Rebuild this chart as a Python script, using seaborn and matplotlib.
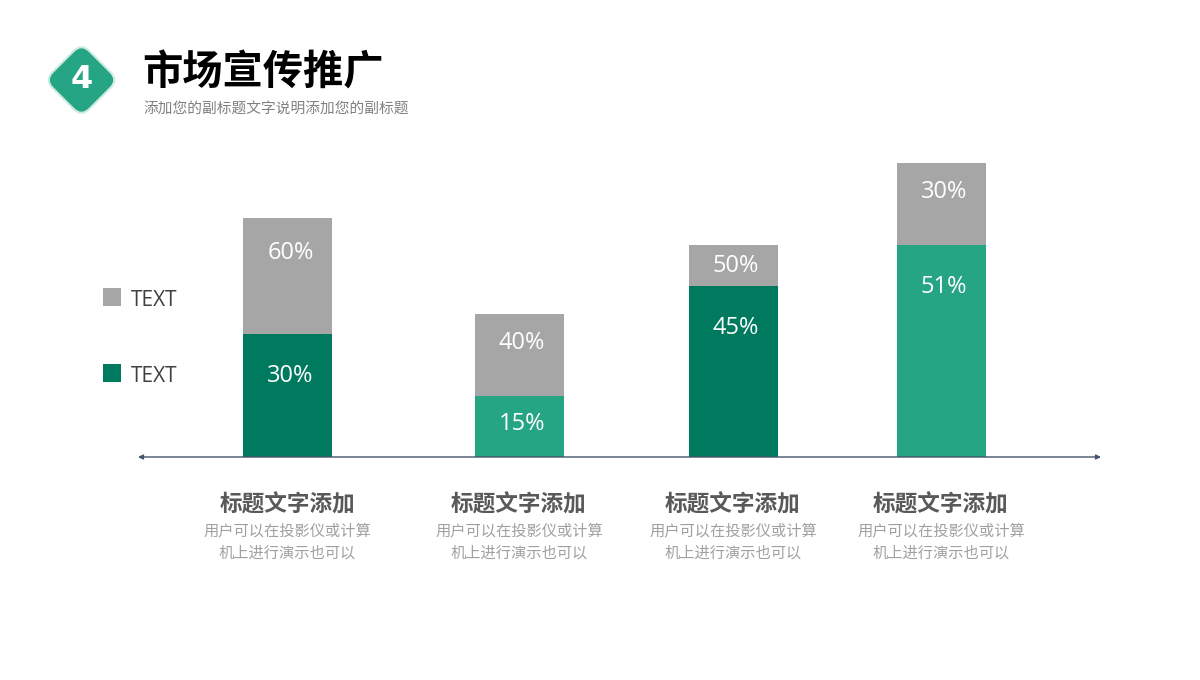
import matplotlib
matplotlib.use("Agg")
import matplotlib.pyplot as plt
import matplotlib.patches as mpatches
from matplotlib.transforms import Affine2D
import seaborn as sns
import pandas as pd

sns.set_theme(style="white")
plt.rcParams['font.family'] = ['Noto Sans CJK SC', 'DejaVu Sans']

# ---- data ----
categories = ["A", "B", "C", "D"]
green_height = [123, 61, 171, 212]      # lower segment heights
gray_height = [116, 82, 41, 82]         # upper segment heights
green_labels = ["30%", "15%", "45%", "51%"]
gray_labels = ["60%", "40%", "50%", "30%"]
legend_labels = ["TEXT", "TEXT"]
cat_titles = ["标题文字添加"] * 4
cat_desc1 = ["用户可以在投影仪或计算"] * 4
cat_desc2 = ["机上进行演示也可以"] * 4
title = "市场宣传推广"
subtitle = "添加您的副标题文字说明添加您的副标题"
badge = "4"

# ---- layout / style ----
x_pos = [287.5, 519, 733, 941]
bar_px = 89
DARK = "#007A5E"
LIGHT = "#26A585"
GRAY = "#A6A6A6"
green_colors = [DARK, LIGHT, DARK, LIGHT]
W, H = 1200, 680
BASE = 457  # baseline pixel row

df = pd.DataFrame({
    "cat": categories,
    "pos": x_pos,
    "green": green_height,
    "total": [g + t for g, t in zip(green_height, gray_height)],
})

fig = plt.figure(figsize=(12, 6.8), dpi=100)
ax = fig.add_axes([0, 0, 1, 1])

min_gap = min(b - a for a, b in zip(x_pos[:-1], x_pos[1:]))
wfrac = bar_px / min_gap

sns.barplot(data=df, x="pos", y="total", native_scale=True, color=GRAY,
            width=wfrac, errorbar=None, linewidth=0, saturation=1, ax=ax)
sns.barplot(data=df, x="pos", y="green", hue="cat", native_scale=True,
            palette=dict(zip(categories, green_colors)), dodge=False,
            width=wfrac, errorbar=None, linewidth=0, saturation=1,
            legend=False, ax=ax)

ax.set_xlim(0, W)
ax.set_ylim(BASE - H, BASE)
ax.axis("off")

def py(p):  # pixel row -> data y
    return BASE - p

# segment labels
for i in range(len(categories)):
    g = green_height[i]
    t = gray_height[i]
    yg = g - min(g / 2 - 2, 42)
    yt = g + t - min(t / 2 + 4, max(32, 0.33 * t)) + 3
    ax.text(x_pos[i] + 3, yg, green_labels[i], ha="center", va="center",
            color="white", fontsize=17, family=["Open Sans", "DejaVu Sans"])
    ax.text(x_pos[i] + 3, yt, gray_labels[i], ha="center", va="center",
            color="white", fontsize=17, family=["Open Sans", "DejaVu Sans"])

# baseline axis with arrows
ax.annotate("", xy=(138, 0), xytext=(1101, 0),
            arrowprops=dict(arrowstyle="<|-|>", color="#44546A", lw=1.0,
                            mutation_scale=7, shrinkA=0, shrinkB=0))

# category texts
for i in range(len(categories)):
    ax.text(x_pos[i], py(505), cat_titles[i], ha="center", va="center",
            fontsize=16.3, fontweight="bold", color="#595959")
    ax.text(x_pos[i], py(531), cat_desc1[i], ha="center", va="center",
            fontsize=11, color="#A0A0A0")
    ax.text(x_pos[i], py(553), cat_desc2[i], ha="center", va="center",
            fontsize=11, color="#A0A0A0")

# legend
for lab, col, row in zip(legend_labels, [GRAY, DARK], [297, 373]):
    ax.add_patch(mpatches.Rectangle((103, py(row) - 9), 18, 18, color=col, lw=0))
    ax.text(131, py(row) - 3, lab, ha="left", va="center", fontsize=15,
            color="#404040", family=["Open Sans", "DejaVu Sans"])

# header badge
cx, cy = 81.5, py(80)
s, r = 52, 11
diamond = mpatches.FancyBboxPatch((cx - s / 2, cy - s / 2), s, s,
                                  boxstyle=f"round,pad=0,rounding_size={r}",
                                  facecolor=LIGHT, edgecolor="#CDEBE2", lw=1.5)
diamond.set_transform(Affine2D().rotate_deg_around(cx, cy, 45) + ax.transData)
ax.add_patch(diamond)
ax.text(cx, cy, badge, ha="center", va="center", color="white",
        fontsize=23, fontweight="bold", family=["DejaVu Sans"])

ax.text(142, py(73), title, ha="left", va="center", fontsize=29,
        fontweight="bold", color="black")
ax.text(143, py(109), subtitle, ha="left", va="center", fontsize=10.6,
        color="#808080")

fig.savefig("out.png", dpi=100)
